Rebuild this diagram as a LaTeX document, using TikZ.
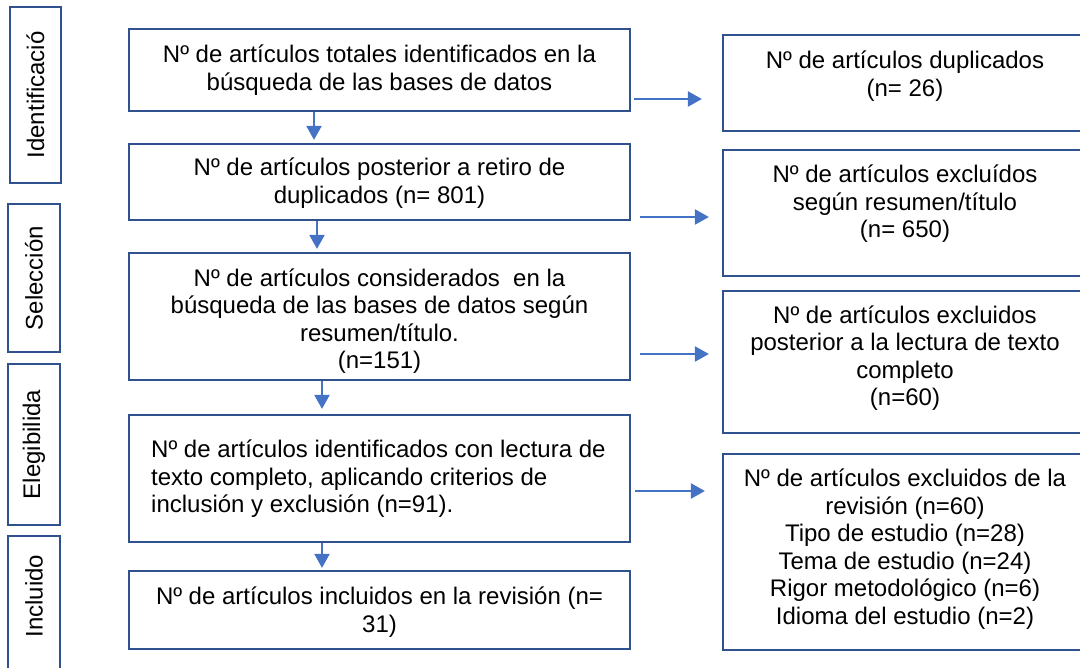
\documentclass[tikz,border=0pt]{standalone}
\usepackage{fontspec}
\setmainfont{Liberation Sans}
\usetikzlibrary{positioning}
\usetikzlibrary{arrows.meta}
\definecolor{boxblue}{HTML}{2F528F}
\definecolor{flowblue}{HTML}{4472C4}

\begin{document}
\begin{tikzpicture}[x=1pt,y=-1pt,>={Triangle[length=14pt,width=15pt]},
        frame/.style={rectangle,draw=boxblue,line width=2.2pt,inner sep=0pt},
        txt/.style={align=center,inner sep=0pt,font=\fontsize{24}{27.5}\selectfont},
        flow/.style={draw=flowblue,line width=2.2pt,->}]
        \useasboundingbox (0,0) rectangle (1080,668);
        %
        \node (ident) at (35.5,95) [frame,txt,rotate=90,minimum width=176pt,minimum height=51pt] {Identificació};
        \node (selec) at (34,278) [frame,txt,rotate=90,minimum width=148pt,minimum height=52pt] {Selección};
        \node (elegi) at (34,444.5) [frame,txt,rotate=90,minimum width=161pt,minimum height=52pt] {Elegibilida};
        \node (inclu) at (34,613) [frame,rotate=90,minimum width=154pt,minimum height=52pt] {};
        \node (inclutxt) at (34,596) [txt,rotate=90] {Incluido};
        %
        \node (total) at (379.5,70) [frame,minimum width=501pt,minimum height=82pt] {};
        \node (totaltxt) at (379.5,70) [txt] {Nº de artículos totales identificados en la\\búsqueda de las bases de datos};
        \node (posterior) at (379.5,182) [frame,minimum width=501pt,minimum height=76pt] {};
        \node (posteriortxt) at (379.5,183) [txt] {Nº de artículos posterior a retiro de\\duplicados (n= 801)};
        \node (considerados) at (379.5,316.5) [frame,minimum width=501pt,minimum height=127pt] {};
        \node (consideradostxt) at (379.5,321) [txt] {Nº de artículos considerados~ en la\\búsqueda de las bases de datos según\\resumen/título.\\(n=151)};
        \node (completo) at (379.5,478.5) [frame,minimum width=501pt,minimum height=127pt] {};
        \node (completotxt) at (151,479) [txt,align=left,anchor=west] {Nº de artículos identificados con lectura de\\texto completo, aplicando criterios de\\inclusión y exclusión (n=91).};
        \node (incluidos) at (379.5,610) [frame,minimum width=501pt,minimum height=78pt] {};
        \node (incluidostxt) at (379.5,612) [txt] {Nº de artículos incluidos en la revisión (n=\\31)};
        %
        \node (duplicados) at (905,83) [frame,minimum width=364pt,minimum height=96pt] {};
        \node (duplicadostxt) at (905,76) [txt] {Nº de artículos duplicados\\(n= 26)};
        \node (resumen) at (905,213) [frame,minimum width=364pt,minimum height=126pt] {};
        \node (resumentxt) at (905,204) [txt] {Nº de artículos excluídos\\según resumen/título\\(n= 650)};
        \node (lectura) at (905,362) [frame,minimum width=364pt,minimum height=142pt] {};
        \node (lecturatxt) at (905,358) [txt] {Nº de artículos excluidos\\posterior a la lectura de texto\\completo\\(n=60)};
        \node (revision) at (905,552) [frame,minimum width=364pt,minimum height=196pt] {};
        \node (revisiontxt) at (905,549) [txt] {Nº de artículos excluidos de la\\revisión (n=60)\\Tipo de estudio (n=28)\\Tema de estudio (n=24)\\Rigor metodológico (n=6)\\Idioma del estudio (n=2)};
        %
        \coordinate (h1) at (0,99);
        \coordinate (h2) at (0,217);
        \coordinate (h3) at (0,354);
        \coordinate (h4) at (0,491);
        %
        \draw [flow,shorten >=3pt] ([xshift=-65.5pt]total.south) to ([xshift=-65.5pt]posterior.north);
        \draw [flow,shorten >=3pt] ([xshift=-62.5pt]posterior.south) to ([xshift=-62.5pt]considerados.north);
        \draw [flow,shorten >=5pt] ([xshift=-57.5pt]considerados.south) to ([xshift=-57.5pt]completo.north);
        \draw [flow,shorten >=2pt] ([xshift=-57.5pt]completo.south) to ([xshift=-57.5pt]incluidos.north);
        %
        \draw [flow,shorten <=3pt,shorten >=20pt] (total.east |- h1) to (duplicados.west |- h1);
        \draw [flow,shorten <=9pt,shorten >=13pt] (posterior.east |- h2) to (resumen.west |- h2);
        \draw [flow,shorten <=9pt,shorten >=13pt] (considerados.east |- h3) to (lectura.west |- h3);
        \draw [flow,shorten <=4pt,shorten >=17pt] (completo.east |- h4) to (revision.west |- h4);
        %
\end{tikzpicture}
\end{document}
